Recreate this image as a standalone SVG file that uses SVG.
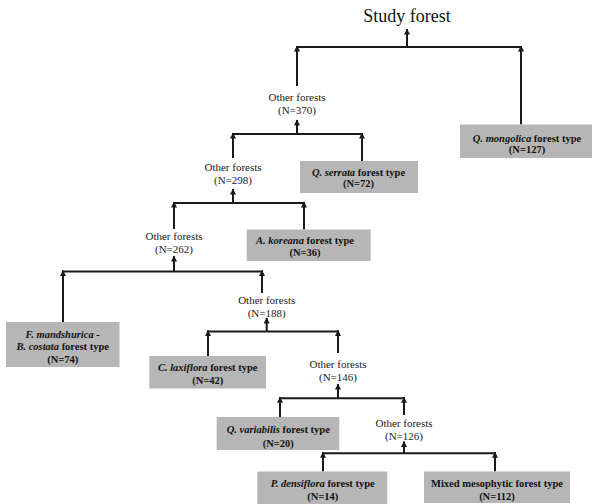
<svg xmlns="http://www.w3.org/2000/svg" width="593" height="504" viewBox="0 0 593 504">
<style>
.ln{stroke:#1a1a1a;stroke-width:2;fill:none}
.arr{marker-end:url(#ah)}
.box{fill:#b6b6b6}
.bt{font-family:"Liberation Serif","Times New Roman",serif;font-size:10.5px;font-weight:bold;fill:#111;text-anchor:middle}
.lb{font-family:"Liberation Serif","Times New Roman",serif;font-size:11px;fill:#222;text-anchor:middle}
.it{font-style:italic}
</style>
<defs>
<marker id="ah" viewBox="0 0 10 10" refX="9" refY="5" markerWidth="7" markerHeight="6" markerUnits="userSpaceOnUse" orient="auto">
<path d="M0,0 L10,5 L0,10 z" fill="#1a1a1a"/>
</marker>
</defs>
<rect width="593" height="504" fill="#fff"/>
<g id="connectors">
<line class="ln arr" x1="407" y1="47" x2="407" y2="29"/>
<line class="ln" x1="296" y1="47" x2="522" y2="47"/>
<line class="ln arr" x1="297" y1="86" x2="297" y2="46"/>
<line class="ln arr" x1="521" y1="124.5" x2="521" y2="46"/>

<line class="ln arr" x1="297" y1="134" x2="297" y2="120"/>
<line class="ln" x1="232" y1="134" x2="363" y2="134"/>
<line class="ln arr" x1="233" y1="158" x2="233" y2="133"/>
<line class="ln arr" x1="362" y1="161" x2="362" y2="133"/>

<line class="ln arr" x1="233" y1="203" x2="233" y2="189"/>
<line class="ln" x1="173" y1="203" x2="305" y2="203"/>
<line class="ln arr" x1="174" y1="229" x2="174" y2="202"/>
<line class="ln arr" x1="304" y1="229.5" x2="304" y2="202"/>

<line class="ln arr" x1="174" y1="271.5" x2="174" y2="256"/>
<line class="ln" x1="62" y1="271.5" x2="263" y2="271.5"/>
<line class="ln arr" x1="63" y1="322" x2="63" y2="270.5"/>
<line class="ln arr" x1="262" y1="293" x2="262" y2="270.5"/>

<line class="ln arr" x1="266.7" y1="331.5" x2="266.7" y2="318"/>
<line class="ln" x1="207" y1="331.5" x2="339" y2="331.5"/>
<line class="ln arr" x1="208" y1="356" x2="208" y2="330.5"/>
<line class="ln arr" x1="338" y1="353" x2="338" y2="330.5"/>

<line class="ln arr" x1="338" y1="398.3" x2="338" y2="384"/>
<line class="ln" x1="279" y1="398.3" x2="405" y2="398.3"/>
<line class="ln arr" x1="280" y1="417" x2="280" y2="397.3"/>
<line class="ln arr" x1="404" y1="415" x2="404" y2="397.3"/>

<line class="ln arr" x1="404" y1="453.3" x2="404" y2="441.5"/>
<line class="ln" x1="322" y1="453.3" x2="496" y2="453.3"/>
<line class="ln arr" x1="323" y1="471.5" x2="323" y2="452.3"/>
<line class="ln arr" x1="495" y1="471.5" x2="495" y2="452.3"/>
</g>

<g id="root"><text x="407" y="22" font-family="Liberation Serif, Times New Roman, serif" font-size="18" fill="#111" text-anchor="middle">Study forest</text></g>

<g id="other370"><text class="lb" x="297" y="101">Other forests</text><text class="lb" x="297" y="113.5">(N=370)</text></g>
<g id="other298"><text class="lb" x="233" y="171">Other forests</text><text class="lb" x="233" y="184">(N=298)</text></g>
<g id="other262"><text class="lb" x="174" y="240">Other forests</text><text class="lb" x="174" y="253">(N=262)</text></g>
<g id="other188"><text class="lb" x="266.7" y="303.5">Other forests</text><text class="lb" x="266.7" y="316.5">(N=188)</text></g>
<g id="other146"><text class="lb" x="338" y="367.5">Other forests</text><text class="lb" x="338" y="380.5">(N=146)</text></g>
<g id="other126"><text class="lb" x="404" y="427">Other forests</text><text class="lb" x="404" y="439.5">(N=126)</text></g>

<g id="mongolica"><rect class="box" x="460" y="124.5" width="132" height="33.5"/>
<text class="bt" x="527" y="141.5"><tspan class="it">Q. mongolica</tspan> forest type</text><text class="bt" x="527" y="153">(N=127)</text></g>
<g id="serrata"><rect class="box" x="300" y="161" width="118" height="32"/>
<text class="bt" x="358.5" y="175.5"><tspan class="it">Q. serrata</tspan> forest type</text><text class="bt" x="358.5" y="187">(N=72)</text></g>
<g id="koreana"><rect class="box" x="246.7" y="229.5" width="124" height="31.5"/>
<text class="bt" x="305" y="244"><tspan class="it">A. koreana</tspan> forest type</text><text class="bt" x="305" y="256">(N=36)</text></g>
<g id="mandshurica"><rect class="box" x="6" y="322" width="113.5" height="45"/>
<text class="bt" x="62.7" y="338"><tspan class="it">F. mandshurica -</tspan></text><text class="bt" x="62.7" y="350"><tspan class="it">B. costata</tspan> forest type</text><text class="bt" x="62.7" y="362.5">(N=74)</text></g>
<g id="laxiflora"><rect class="box" x="149.3" y="356" width="116.7" height="32.5"/>
<text class="bt" x="207.7" y="370.5"><tspan class="it">C. laxiflora</tspan> forest type</text><text class="bt" x="207.7" y="384">(N=42)</text></g>
<g id="variabilis"><rect class="box" x="216.7" y="417" width="122.6" height="33"/>
<text class="bt" x="278.3" y="433"><tspan class="it">Q. variabilis</tspan> forest type</text><text class="bt" x="278.3" y="446.5">(N=20)</text></g>
<g id="densiflora"><rect class="box" x="257.3" y="471.5" width="130" height="32.5"/>
<text class="bt" x="322.7" y="487"><tspan class="it">P. densiflora</tspan> forest type</text><text class="bt" x="322.7" y="500">(N=14)</text></g>
<g id="mixed"><rect class="box" x="424" y="471.5" width="146" height="31.5"/>
<text class="bt" x="497" y="487">Mixed mesophytic forest type</text><text class="bt" x="497" y="500">(N=112)</text></g>
</svg>
